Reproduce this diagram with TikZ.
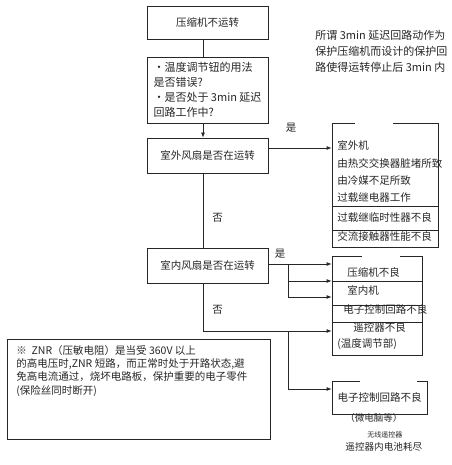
\documentclass[tikz,border=0pt]{standalone}
\usepackage{fontspec}
\setmainfont{Noto Sans CJK SC}
\usetikzlibrary{arrows.meta}

\begin{document}
\begin{tikzpicture}[x=1pt,y=-1pt,line width=0.8pt,color=black!85,
  font=\fontsize{10.5}{13}\selectfont,
  box/.style={draw,rectangle,inner sep=2pt},
  lbl/.style={inner sep=0pt,anchor=west},
  arr/.style={-{Latex[length=5pt,width=4pt]}},
  gap/.style={draw=white,line width=2pt}]
\useasboundingbox (0,0) rectangle (451,465);

% question boxes, left column
\node[box,minimum width=121pt,minimum height=33pt] (stop) at (207.5,22.5) {压缩机不运转};
\node[box,minimum width=121pt,minimum height=66pt,align=left,
  font=\fontsize{11}{15}\selectfont] (check) at (207.5,90)
  {•温度调节钮的用法\\是否错误?\\•是否处于 3min 延迟\\回路工作中?};
\node[box,minimum width=121pt,minimum height=35pt] (outfan) at (207.5,155.5) {室外风扇是否在运转};
\node[box,minimum width=121pt,minimum height=35pt] (infan) at (207.5,265.5) {室内风扇是否在运转};

% note boxes
\node[box,minimum width=263pt,minimum height=100pt] (znr) at (138.5,389) {};
\node[lbl,anchor=north west,align=left,font=\fontsize{10.5}{13.3}\selectfont] (znrtext) at (16,345)
  {※\ \ ZNR（压敏电阻）是当受 360V 以上\\的高电压时,ZNR 短路，而正常时处于开路状态,避\\免高电流通过，烧坏电路板，保护重要的电子零件\\(保险丝同时断开)};
\node[lbl,anchor=north west,align=left,font=\fontsize{11}{16}\selectfont] (delay) at (315,30)
  {所谓 3min 延迟回路动作为\\保护压缩机而设计的保护回\\路使得运转停止后 3min 内};

% cause boxes, right column
\node[box,minimum width=106pt,minimum height=124pt] (outunit) at (385,185) {};
\node[box,minimum width=90pt,minimum height=99pt] (inunit) at (377,305.5) {};
\node[box,minimum width=95pt,minimum height=33pt] (ctrl) at (379.5,397.5) {电子控制回路不良};

\draw[gap] ([xshift=-30pt]outunit.north) -- ([xshift=8pt]outunit.north);
\draw[gap] ([xshift=-15pt]inunit.north) -- ([xshift=23pt]inunit.north);
\draw[gap] ([xshift=-19.5pt]ctrl.north) -- ([xshift=37.5pt]ctrl.north);

\draw (outunit.west |- 0,206) -- (outunit.east |- 0,206);
\draw (outunit.west |- 0,230) -- (outunit.east |- 0,230);
\draw (inunit.west |- 0,281) -- (inunit.east |- 0,281);
\draw (inunit.west |- 0,305) -- (inunit.east |- 0,305);
\draw (inunit.west |- 0,322) -- (inunit.east |- 0,322);

\node[lbl] (o1) at (337,145) {室外机};
\node[lbl] (o2) at (337,163) {由热交交换器脏堵所致};
\node[lbl] (o3) at (337,181) {由冷媒不足所致};
\node[lbl] (o4) at (337,198) {过载继电器工作};
\node[lbl] (o5) at (337,217) {过载继临时性器不良};
\node[lbl] (o6) at (337,236) {交流接触器性能不良};

\node[lbl] (i1) at (347,272) {压缩机不良};
\node[lbl] (i2) at (347,290) {室内机};
\node[lbl] (i3) at (343,309) {电子控制回路不良};
\node[lbl] (i4) at (353,327) {遥控器不良};
\node[lbl] (i5) at (337,344) {(温度调节部)};

\node[lbl,font=\fontsize{9.5}{11}\selectfont] (c1) at (345,418) {（微电脑等）};
\node[lbl,font=\fontsize{7}{9}\selectfont] (c2) at (367,435) {无线遥控器};
\node[lbl,font=\fontsize{9.6}{11}\selectfont] (c3) at (345,447) {遥控器内电池耗尽};

% connectors
\coordinate (n1) at (203,331);
\coordinate (yes1) at ([yshift=7.5pt]outfan.east);
\coordinate (yes2) at ([yshift=1.5pt]infan.east);
\coordinate (f1) at (288,264);
\coordinate (f2) at (288,281);
\coordinate (f3) at (288,297);
\coordinate (f4) at (288,331);
\coordinate (f5) at (288,389);

\draw (stop.south -| n1) -- (check.north -| n1);
\draw[arr] (check.south -| n1) -- (outfan.north -| n1);
\draw (outfan.south -| n1) -- node[pos=0.6,right=9pt,inner sep=0pt] (no1) {否} (infan.north -| n1);
\draw (infan.south -| n1) -- node[pos=0.55,right=9pt,inner sep=0pt] (no2) {否} (n1) -- (f4);

\draw[arr] (yes1) -- (yes1 -| outunit.west);
\node (yeslbl1) at (291,128) {是};

\draw (yes2) -- (f1) -- (f3);
\draw[arr] (f1) -- (f1 -| inunit.west);
\draw[arr] (f2) -- (f2 -| inunit.west);
\draw[arr] (f3) -- (f3 -| inunit.west);
\node (yeslbl2) at (280,254) {是};

\draw[arr] (f4) -- (f4 -| inunit.west);
\draw (f4) -- (f5);
\draw[arr] (f5) -- (f5 -| ctrl.west);

\end{tikzpicture}
\end{document}
